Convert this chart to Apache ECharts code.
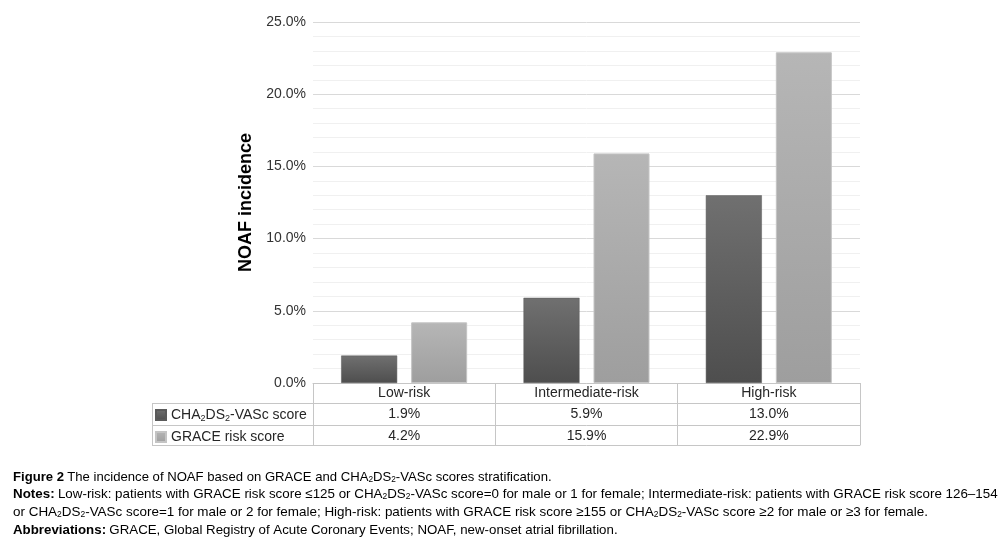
<!DOCTYPE html>
<html><head><meta charset="utf-8">
<script src="https://cdn.jsdelivr.net/npm/echarts@6/dist/echarts.min.js"></script>
<style>html,body{margin:0;padding:0;background:#fff}#c{width:1003px;height:542px}</style>
</head><body><div id="c"></div>
<script>
const categories = ['Low-risk', 'Intermediate-risk', 'High-risk'];
const chaValues = [1.9, 5.9, 13.0];
const graceValues = [4.2, 15.9, 22.9];
const seriesNames = ['CHA2DS2-VASc score', 'GRACE risk score'];
const yTicks = [0, 5, 10, 15, 20, 25];

const G = {left: 313, right: 860, top: 22, bottom: 383};
const tableLeft = 152;
const rowY = [403, 425, 445];
const lineCol = '#c6c6c6';
const txt = '#262626';
const font = 'Liberation Sans, Arial, sans-serif';

const chart = echarts.init(document.getElementById('c'));
const fmt = v => v.toFixed(1) + '%';

function richName(n) {
  if (n.indexOf('CHA2DS2') === 0) return '{a|CHA}{s|2}{a|DS}{s|2}{a|' + n.slice(7) + '}';
  return '{a|' + n + '}';
}

// caption
const capFont = 'Liberation Sans';
const capSize = 13.5, capSub = 8.5;
const capRich = {
  b: {fontFamily: capFont, fontWeight: 'bold', fontSize: capSize, color: '#231f20'},
  n: {fontFamily: capFont, fontSize: capSize, color: '#231f20'},
  s: {fontFamily: capFont, fontSize: capSub, color: '#231f20', verticalAlign: 'bottom', lineHeight: 3}
};
const mctx = document.createElement('canvas').getContext('2d');
function measure(str) {
  let w = 0;
  str.replace(/\{(\w)\|([^}]*)\}|([^{]+)/g, (m, k, t, plain) => {
    if (plain) { mctx.font = capSize + 'px ' + capFont; w += mctx.measureText(plain).width; return m; }
    const st = capRich[k];
    mctx.font = (st.fontWeight === 'bold' ? 'bold ' : '') + st.fontSize + 'px ' + capFont;
    w += mctx.measureText(t).width;
    return m;
  });
  return w;
}
const capX = 13;
function capLine(yMid, xEnd, parts) {
  const s = (xEnd - capX) / measure(parts);
  return {type: 'text', x: capX, y: yMid, scaleX: s, style: {rich: capRich, text: parts, verticalAlign: 'middle'}};
}

const lines = [];
rowY.forEach(y => lines.push({type: 'line', shape: {x1: tableLeft, y1: y + 0.5, x2: G.left, y2: y + 0.5}, style: {stroke: lineCol, lineWidth: 1}}));
lines.push({type: 'line', shape: {x1: tableLeft + 0.5, y1: rowY[0], x2: tableLeft + 0.5, y2: rowY[2]}, style: {stroke: lineCol, lineWidth: 1}});

const option = {
  animation: false,
  grid: {left: G.left, right: 1003 - G.right, top: G.top, bottom: 542 - G.bottom},
  legend: {
    orient: 'vertical', left: tableLeft + 3, top: rowY[0] + 5, itemWidth: 10, itemHeight: 10, itemGap: 7, padding: 0,
    icon: 'rect', data: seriesNames,
    formatter: n => richName(n),
    textStyle: {rich: {
      a: {fontFamily: font, fontSize: 14, color: txt, lineHeight: 16},
      s: {fontFamily: font, fontSize: 9, color: txt, lineHeight: 5, verticalAlign: 'bottom'}
    }}
  },
  xAxis: [
    {type: 'category', data: categories, position: 'bottom',
     axisLine: {show: true, lineStyle: {color: lineCol}},
     axisTick: {show: true, length: rowY[2] - G.bottom, lineStyle: {color: lineCol}},
     axisLabel: {fontFamily: font, fontSize: 14, color: txt, margin: 3}},
    {type: 'category', data: chaValues.map(fmt), position: 'bottom', offset: rowY[0] - G.bottom,
     axisLine: {show: true, lineStyle: {color: lineCol}}, axisTick: {show: false},
     axisLabel: {fontFamily: font, fontSize: 14, color: txt, margin: 4}},
    {type: 'category', data: graceValues.map(fmt), position: 'bottom', offset: rowY[1] - G.bottom,
     axisLine: {show: true, lineStyle: {color: lineCol}}, axisTick: {show: false},
     axisLabel: {fontFamily: font, fontSize: 14, color: txt, margin: 4}},
    {type: 'category', data: categories, position: 'bottom', offset: rowY[2] - G.bottom,
     axisLine: {show: true, lineStyle: {color: lineCol}}, axisTick: {show: false}, axisLabel: {show: false}}
  ],
  yAxis: {
    type: 'value', min: yTicks[0], max: yTicks[yTicks.length - 1], interval: 5,
    name: 'NOAF incidence', nameLocation: 'middle', nameGap: 55,
    nameTextStyle: {fontFamily: font, fontSize: 18, fontWeight: 'bold', color: '#000'},
    axisLine: {show: false}, axisTick: {show: false},
    axisLabel: {fontFamily: font, fontSize: 14, color: '#333', margin: 7, formatter: v => fmt(v)},
    splitLine: {show: true, lineStyle: {color: '#d9d9d9'}},
    minorTick: {show: false, splitNumber: 5},
    minorSplitLine: {show: true, lineStyle: {color: '#f0f0f0'}}
  },
  series: [
    {name: seriesNames[0], type: 'bar', data: chaValues, barWidth: 56, barGap: '25%',
     itemStyle: {color: new echarts.graphic.LinearGradient(0, 0, 0, 1, [{offset: 0, color: '#707070'}, {offset: 1, color: '#4e4e4e'}]), borderColor: '#5a5a5a', borderWidth: 0.5}},
    {name: seriesNames[1], type: 'bar', data: graceValues, barWidth: 56,
     itemStyle: {color: new echarts.graphic.LinearGradient(0, 0, 0, 1, [{offset: 0, color: '#b6b6b6'}, {offset: 1, color: '#9e9e9e'}]), borderColor: '#c4c4c4', borderWidth: 1}}
  ],
  graphic: lines.concat([
    capLine(477, 552, '{b|Figure 2} {n|The incidence of NOAF based on GRACE and CHA}{s|2}{n|DS}{s|2}{n|-VASc scores stratification.}'),
    capLine(494, 998, '{b|Notes:} {n|Low-risk: patients with GRACE risk score ≤125 or CHA}{s|2}{n|DS}{s|2}{n|-VASc score=0 for male or 1 for female; Intermediate-risk: patients with GRACE risk score 126–154}'),
    capLine(512, 928, '{n|or CHA}{s|2}{n|DS}{s|2}{n|-VASc score=1 for male or 2 for female; High-risk: patients with GRACE risk score ≥155 or CHA}{s|2}{n|DS}{s|2}{n|-VASc score ≥2 for male or ≥3 for female.}'),
    capLine(530, 618, '{b|Abbreviations:} {n|GRACE, Global Registry of Acute Coronary Events; NOAF, new-onset atrial fibrillation.}')
  ])
};
chart.setOption(option);
</script></body></html>
